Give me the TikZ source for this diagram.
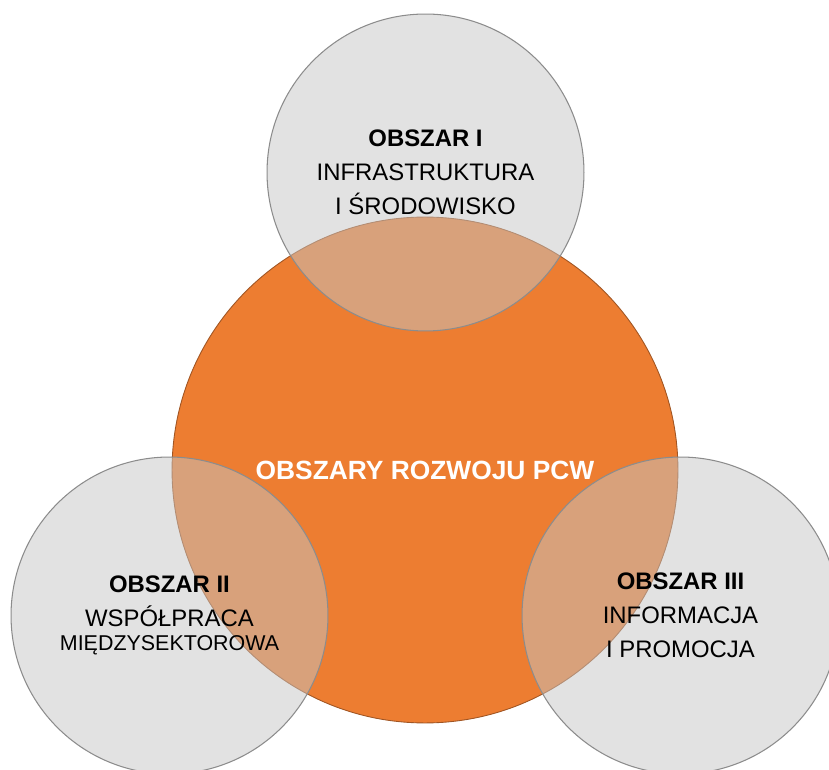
\documentclass[tikz,border=0pt]{standalone}
\usepackage{fontspec}
\setmainfont{Liberation Sans}
\usetikzlibrary{positioning}
\definecolor{pcworange}{RGB}{237,125,49}
\definecolor{pcwedge}{RGB}{160,85,35}
\definecolor{areagray}{RGB}{197,197,197}

\begin{document}
\begin{tikzpicture}[x=0.02cm, y=-0.02cm,
  core/.style={circle, draw=pcwedge, line width=0.5pt, fill=pcworange,
               minimum size=10.12cm, inner sep=0pt, text=white,
               font=\fontsize{15}{18}\selectfont\bfseries},
  area/.style={circle, draw=black!45, line width=0.6pt, fill=areagray,
               fill opacity=0.5, text opacity=1, minimum size=6.34cm,
               inner sep=0pt, font=\fontsize{13.6}{19.4}\selectfont},
  every node/.style={align=center}
]
\useasboundingbox (0,0) rectangle (829,770);
\node[core](pcw) at (425,470){OBSZARY ROZWOJU PCW};
\node[area](ob1) at (425.5,172.5){\textbf{OBSZAR I}\\INFRASTRUKTURA\\I ŚRODOWISKO};
\node[area](ob2) at (169.5,615.5){\textbf{OBSZAR II}\\WSPÓŁPRACA\\[-5.6pt]{\fontsize{12.2}{14}\selectfont MIĘDZYSEKTOROWA}};
\node[area](ob3) at (680.5,615.5){\textbf{OBSZAR III}\\INFORMACJA\\I PROMOCJA};
\end{tikzpicture}
\end{document}
